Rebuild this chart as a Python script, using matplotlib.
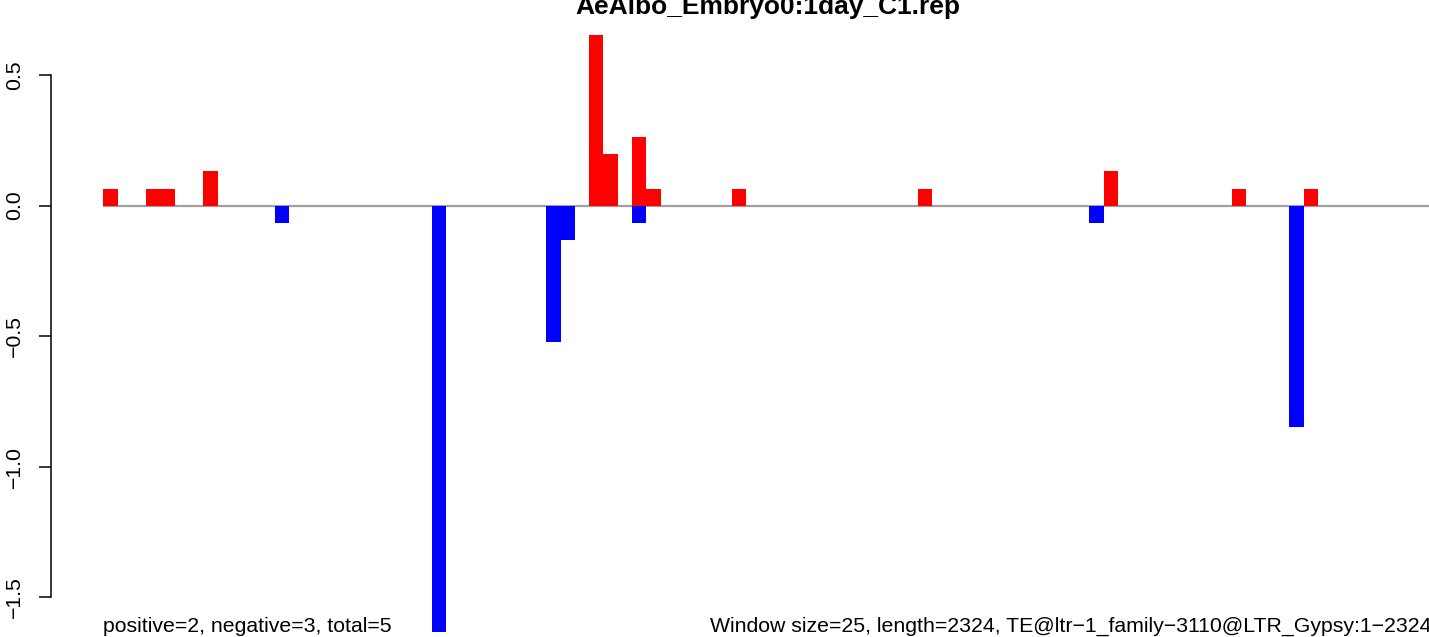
import numpy as np
import matplotlib
matplotlib.use("Agg")
import matplotlib.pyplot as plt

plt.rcParams['font.family'] = ['Liberation Sans', 'DejaVu Sans']

title = "AeAlbo_Embryo0:1day_C1.rep"
n_windows = 93  # length 2324 / window 25

# window index and value for the non-zero windows
pos_idx = [0, 3, 4, 7, 34, 35, 37, 38, 44, 57, 70, 79, 84]
pos_val = [0.065, 0.065, 0.065, 0.131, 0.653, 0.196, 0.261, 0.065, 0.065, 0.065, 0.131, 0.065, 0.065]
neg_idx = [12, 23, 31, 32, 37, 69, 83]
neg_val = [-0.065, -1.632, -0.522, -0.131, -0.065, -0.065, -0.849]

yticks = [-1.5, -1.0, -0.5, 0.0, 0.5]
left_note = "positive=2, negative=3, total=5"
right_note = "Window size=25, length=2324, TE@ltr\u22121_family\u22123110@LTR_Gypsy:1\u22122324"

W, H = 1429, 637
fig = plt.figure(figsize=(W / 100, H / 100), dpi=100)
x0 = 103.3
ax = fig.add_axes([x0 / W, 0, 1 - x0 / W, 1])

ax.axhline(0, color="#a0a0a0", lw=1.6, zorder=1)
ax.bar(pos_idx, pos_val, width=1, align="edge", color="red", lw=0, zorder=2)
ax.bar(neg_idx, neg_val, width=1, align="edge", color="blue", lw=0, zorder=2)

ax.set_xlim(0, (W - x0) / 14.29)
ax.set_ylim(-1.652, 0.787)

for s in ["top", "right", "bottom"]:
    ax.spines[s].set_visible(False)
ax.spines["left"].set_position(("outward", 52.6 * 0.72))
ax.spines["left"].set_bounds(-1.5, 0.5)
ax.spines["left"].set_linewidth(1.1)
ax.set_xticks([])
ax.set_yticks(yticks)
ax.set_yticklabels(["\u22121.5", "\u22121.0", "\u22120.5", "0.0", "0.5"],
                   rotation=90, va="center", fontsize=15.3)
ax.tick_params(axis="y", length=8.9, width=1.1, pad=10.5)

fig.text(767.5 / W, 1 - 14 / H, title, ha="center", va="baseline",
         fontsize=19, fontweight="bold")
fig.text(x0 / W, 5 / H, left_note, ha="left", va="baseline", fontsize=15.3)
fig.text(1431 / W, 5 / H, right_note, ha="right", va="baseline", fontsize=15.3)

fig.savefig("out.png", dpi=100)
